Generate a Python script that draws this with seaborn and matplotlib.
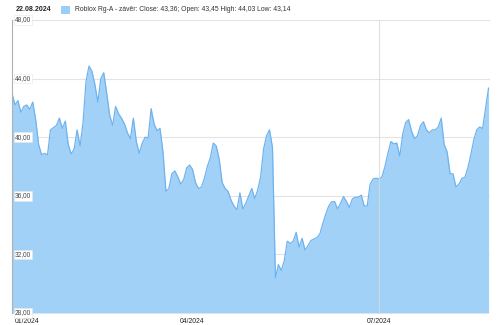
import numpy as np
import pandas as pd
import matplotlib
matplotlib.use("Agg")
import matplotlib.pyplot as plt
import seaborn as sns
from matplotlib.patches import Rectangle

# ---- data ----
holidays = ["2024-01-15", "2024-02-19", "2024-03-29", "2024-05-27",
            "2024-06-19", "2024-07-04"]
dates = pd.bdate_range("2024-01-02", "2024-08-22")
dates = dates[~dates.isin(pd.to_datetime(holidays))]

close = [
    43.0, 42.2, 42.5, 41.7, 42.1, 42.2, 41.9, 42.4, 41.2, 39.5,
    38.8, 38.9, 38.8, 40.5, 40.65, 40.8, 41.3, 40.6, 41.1, 39.5,
    38.85, 39.2, 40.5, 39.4, 41.0, 43.8, 44.85, 44.5, 43.6, 42.4,
    44.0, 44.4, 43.0, 41.5, 40.8, 42.1, 41.6, 41.3, 40.9, 40.3,
    39.9, 41.3, 39.7, 38.9, 39.6, 40.0, 39.95, 41.95, 40.9, 40.45,
    40.6, 39.0, 36.3, 36.5, 37.5, 37.7, 37.3, 36.8, 37.1, 37.9,
    38.1, 37.8, 36.9, 36.5, 36.6, 37.2, 38.0, 38.6, 39.6, 39.4,
    38.5, 36.9, 36.5, 36.3, 35.7, 35.3, 35.05, 36.2, 35.1, 35.5,
    36.0, 36.5, 35.8, 36.4, 37.3, 39.2, 40.1, 40.5, 39.3, 30.4,
    31.3, 30.9, 31.6, 32.9, 32.75, 32.9, 33.5, 32.5, 33.1, 32.3,
    32.6, 32.95, 33.05, 33.15, 33.4, 34.1, 34.75, 35.3, 35.6, 35.6,
    35.1, 35.5, 35.95, 35.6, 35.2, 35.8, 35.9, 35.9, 36.05, 35.3,
    35.3, 36.8, 37.15, 37.2, 37.15, 37.3, 38.0, 38.9, 39.7, 39.55,
    39.6, 38.7, 40.2, 41.0, 41.2, 40.4, 39.9, 40.1, 40.8, 41.05,
    40.5, 40.3, 40.5, 40.5, 40.7, 41.3, 39.5, 39.0, 37.5, 37.5,
    36.6, 36.8, 37.2, 37.25, 37.9, 38.8, 39.8, 40.5, 40.7, 40.6,
    42.0, 43.36,
]
y_ticks = [28, 32, 36, 40, 44, 48]
y_labels = ["28,00", "32,00", "36,00", "40,00", "44,00", "48,00"]
x_tick_months = ["2024-01", "2024-04", "2024-07"]
x_tick_labels = ["01/2024", "04/2024", "07/2024"]
date_label = "22.08.2024"
legend_label = "Roblox Rg-A - závěr: Close: 43,36; Open: 43,45 High: 44,03 Low: 43,14"

n = min(len(dates), len(close))
df = pd.DataFrame({"idx": np.arange(n), "date": dates[:n], "close": close[:n]})

# ---- figure ----
sns.set_theme(style="white")
plt.rcParams["font.family"] = ["Liberation Sans", "DejaVu Sans"]
fig = plt.figure(figsize=(5.0, 3.25), dpi=100)
ax = fig.add_axes([12 / 500, 12 / 325, 478 / 500, 293 / 325])

fill_c = "#9ccff7"
line_c = "#6fb3ee"
grid_c = "#e3e3e3"

for yt in y_ticks:
    ax.axhline(yt, color=grid_c, lw=0.8, zorder=0)

ax.fill_between(df["idx"], df["close"], 28, color=fill_c, lw=0, zorder=1, alpha=0.95)
sns.lineplot(data=df, x="idx", y="close", ax=ax, color=line_c, lw=0.9, zorder=2)

# tick positions: first trading day of each month
tick_pos = [int(df.index[df["date"].dt.strftime("%Y-%m") == m][0]) for m in x_tick_months]
ax.axvline(tick_pos[-1], color="#d9d9d9", lw=0.8, zorder=3, alpha=0.8)

ax.set_xlim(0, (490 - 12) / 2.96)
ax.set_ylim(28, 48)
ax.set_xlabel("")
ax.set_ylabel("")
ax.set_yticks([])
ax.set_xticks([])

for s in ["top", "right", "bottom"]:
    ax.spines[s].set_visible(False)
ax.spines["left"].set_color("#b0b0b0")
ax.spines["left"].set_linewidth(0.8)

for yt, lab in zip(y_ticks, y_labels):
    ax.text(0.006, yt, lab, transform=ax.get_yaxis_transform(), ha="left", va="center",
            fontsize=4.7, color="#444444", zorder=5,
            bbox=dict(boxstyle="square,pad=0.2", fc="white", ec="#e6e6e6", lw=0.4))

xt = ax.get_xaxis_transform()
for i, (p, lab) in enumerate(zip(tick_pos, x_tick_labels)):
    if i == 0:
        ax.text(p + 1.0, -0.018, lab, transform=xt, ha="left", va="top",
                fontsize=4.9, color="#222222")
    else:
        ax.text(p, -0.018, lab, transform=xt, ha="center", va="top",
                fontsize=4.9, color="#222222")

# header
fig.text(16 / 500, 1 - 9.5 / 325, date_label, fontsize=5.0, fontweight="bold",
         color="#222222", ha="left", va="center")
fig.patches.append(Rectangle((61 / 500, 1 - 13.5 / 325), 8.5 / 500, 7.5 / 325,
                             transform=fig.transFigure, fc=fill_c, ec="none"))
fig.text(75 / 500, 1 - 9.5 / 325, legend_label, fontsize=4.9, color="#333333",
         ha="left", va="center")

fig.savefig("out.png", dpi=100)
